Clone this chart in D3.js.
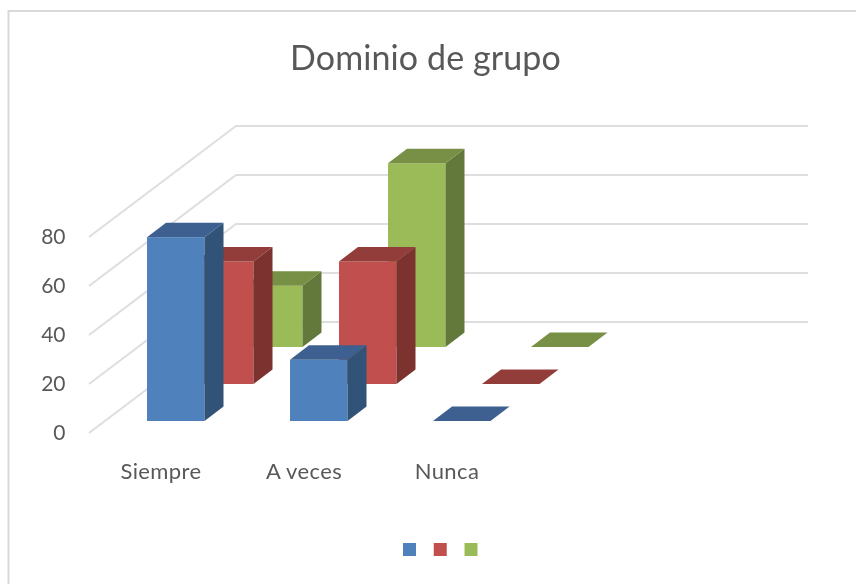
<!DOCTYPE html>
<html><head><meta charset="utf-8">
<script src="https://cdn.jsdelivr.net/npm/d3@7/dist/d3.min.js"></script>
<style>html,body{margin:0;padding:0;background:#fff}svg{display:block}text{font-family:Lato,"Open Sans",sans-serif;fill:#595959}</style>
</head><body><div id="c"></div>
<script>
const categories=["Siempre","A veces","Nunca"];
const seriesNames=["Serie 1","Serie 2","Serie 3"];
const serie1=[75,25,0];
const serie2=[50,50,0];
const serie3=[25,75,0];
const yTicks=[0,20,40,60,80];
const frontColors=["#4f81bd","#c0504d","#9bbb59"];
const topColors=["#3c6190","#933c3a","#779044"];
const sideColors=["#305278","#7b302e","#64783a"];
const allSeries=[serie1,serie2,serie3];

const svg=d3.select("#c").append("svg").attr("width",856).attr("height",584);
const defs=svg.append("defs");
defs.append("filter").attr("id","soft").attr("x","-5%").attr("y","-5%").attr("width","110%").attr("height","110%")
  .append("feGaussianBlur").attr("stdDeviation",0.5);
const root=svg.append("g").attr("filter","url(#soft)");
root.append("rect").attr("x",8.5).attr("y",11).attr("width",900).attr("height",700).attr("fill","#fff").attr("stroke","#d9d9d9").attr("stroke-width",2);
root.append("text").attr("x",425.5).attr("y",70).attr("text-anchor","middle").attr("font-size",34).attr("letter-spacing",0.1).text("Dominio de grupo");

const x=d3.scaleBand().domain(categories).range([147,576]).paddingInner(0);
const barW=57.5;
const h=d3.scaleLinear().domain([0,80]).range([0,196]);
const baseY=421;
const depth=d3.scaleLinear().domain([0,1]).range([[0,0],[49,-37]]).interpolate((a,b)=>t=>[a[0]+(b[0]-a[0])*t,a[1]+(b[1]-a[1])*t]);
const bx=19,by=-14.5;

// side wall and back wall gridlines
const yFront=d3.scaleLinear().domain([0,80]).range([433,237]);
const gridDx=147,gridDy=-111,gridLeft=89,gridRight=808;
const grid=root.append("g").attr("fill","none").attr("stroke","#dedede").attr("stroke-width",2);
yTicks.forEach(t=>{
  const y0=yFront(t);
  grid.append("path").attr("d",d3.line()([[gridLeft,y0],[gridLeft+gridDx,y0+gridDy],[gridRight,y0+gridDy]]));
});
root.append("g").selectAll("text").data(yTicks).join("text")
  .attr("x",65.5).attr("y",d=>yFront(d)-1.5).attr("text-anchor","end").attr("dominant-baseline","central").attr("font-size",21).text(d=>d);

// bars drawn back to front
const bars=root.append("g");
[2,1,0].forEach(s=>{
  categories.forEach((c,i)=>{
    const v=allSeries[s][i],[dx,dy]=depth(s);
    const l=x(c)+dx,r=l+barW,b=baseY+dy,t=b-h(v);
    const g=bars.append("g");
    if(v>0){
      g.append("rect").attr("x",l).attr("y",t).attr("width",barW).attr("height",h(v)).attr("fill",frontColors[s]);
      g.append("polygon").attr("points",[[r,t],[r+bx,t+by],[r+bx,b+by],[r,b]].join(" ")).attr("fill",sideColors[s]);
    }
    g.append("polygon").attr("points",[[l,t],[r,t],[r+bx,t+by],[l+bx,t+by]].join(" ")).attr("fill",topColors[s]);
  });
});

root.append("g").selectAll("text").data(categories).join("text")
  .attr("x",d=>x(d)+14).attr("y",479).attr("text-anchor","middle").attr("font-size",22).attr("letter-spacing",0.4).text(d=>d);

const legendX=d3.scalePoint().domain(seriesNames).range([403,464.5]);
root.append("g").selectAll("rect").data(seriesNames).join("rect")
  .attr("x",d=>legendX(d)).attr("y",543).attr("width",13).attr("height",13).attr("fill",(d,i)=>frontColors[i]);
</script></body></html>
